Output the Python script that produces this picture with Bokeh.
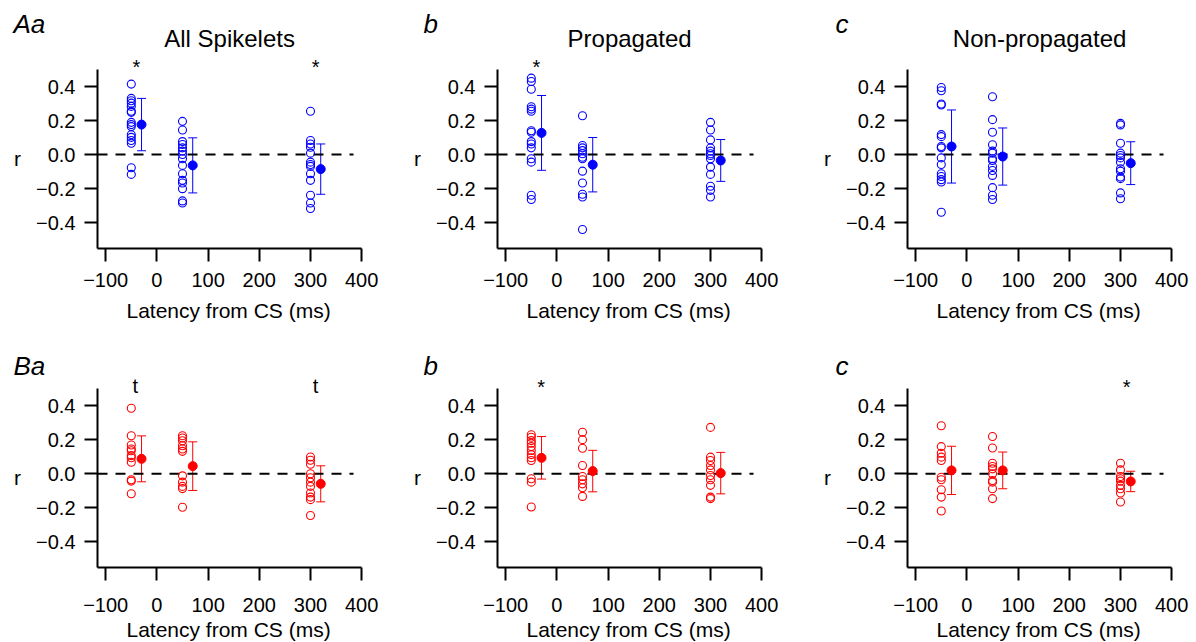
from bokeh.plotting import figure
from bokeh.layouts import column, row
from bokeh.models import ColumnDataSource, Whisker, TeeHead, FixedTicker, LinearAxis
from bokeh.embed import file_html
from bokeh.resources import INLINE
from bokeh.core.properties import value

# ---------------- data ----------------
x_groups = [-50, 50, 300]          # individual r values (open circles)
x_means = [-30, 70, 320]           # mean +/- SD (filled circles)
x_ticks = [-100, 0, 100, 200, 300, 400]
y_ticks = [-0.4, -0.2, 0.0, 0.2, 0.4]

# A: (blue)
aa_m50 = [0.414, 0.330, 0.316, 0.302, 0.283, 0.254, 0.248, 0.189, 0.176, 0.164, 0.117, 0.101, 0.082, 0.066, -0.078, -0.117]
aa_p50 = [0.195, 0.144, 0.076, 0.059, 0.039, 0.020, 0.000, -0.025, -0.064, -0.113, -0.152, -0.168, -0.201, -0.273, -0.285]
aa_p300 = [0.254, 0.082, 0.062, 0.043, 0.008, -0.045, -0.059, -0.070, -0.113, -0.152, -0.240, -0.285, -0.318]
aa_mean = [0.176, -0.064, -0.086]
aa_sd = [0.154, 0.162, 0.148]

ab_m50 = [0.449, 0.429, 0.384, 0.281, 0.267, 0.254, 0.140, 0.131, 0.076, 0.062, 0.039, -0.025, -0.045, -0.240, -0.265]
ab_p50 = [0.228, 0.053, 0.039, 0.023, 0.004, -0.016, -0.025, -0.098, -0.168, -0.234, -0.250, -0.441]
ab_p300 = [0.189, 0.144, 0.086, 0.039, 0.020, 0.004, -0.006, -0.025, -0.074, -0.117, -0.187, -0.211, -0.250]
ab_mean = [0.127, -0.060, -0.035]
ab_sd = [0.220, 0.160, 0.123]

ac_m50 = [0.394, 0.375, 0.297, 0.291, 0.117, 0.105, 0.047, 0.039, -0.020, -0.059, -0.113, -0.129, -0.148, -0.162, -0.340]
ac_p50 = [0.340, 0.205, 0.131, 0.057, 0.020, 0.008, -0.025, -0.035, -0.070, -0.094, -0.123, -0.195, -0.240, -0.265]
ac_p300 = [0.183, 0.174, 0.066, 0.008, -0.006, -0.020, -0.045, -0.084, -0.098, -0.133, -0.142, -0.226, -0.260]
ac_mean = [0.047, -0.012, -0.051]
ac_sd = [0.215, 0.168, 0.126]

# B: (red)
ba_m50 = [0.386, 0.224, 0.169, 0.146, 0.136, 0.107, 0.094, 0.068, -0.035, -0.043, -0.117]
ba_p50 = [0.224, 0.211, 0.194, 0.165, 0.146, 0.132, -0.012, -0.049, -0.074, -0.087, -0.197]
ba_p300 = [0.099, 0.080, 0.056, 0.000, -0.023, -0.049, -0.074, -0.113, -0.137, -0.152, -0.245]
ba_mean = [0.088, 0.045, -0.059]
ba_sd = [0.135, 0.143, 0.106]

bb_m50 = [0.230, 0.215, 0.195, 0.180, 0.160, 0.137, 0.113, 0.094, 0.078, -0.029, -0.049, -0.195]
bb_p50 = [0.244, 0.201, 0.150, 0.049, -0.016, -0.035, -0.059, -0.082, -0.133]
bb_p300 = [0.273, 0.098, 0.078, 0.049, 0.023, -0.010, -0.035, -0.068, -0.137, -0.146]
bb_mean = [0.094, 0.016, 0.004]
bb_sd = [0.125, 0.122, 0.122]

bc_m50 = [0.283, 0.160, 0.121, 0.098, 0.078, -0.020, -0.035, -0.094, -0.137, -0.219]
bc_p50 = [0.219, 0.152, 0.062, 0.043, 0.029, 0.000, -0.039, -0.049, -0.088, -0.146]
bc_p300 = [0.062, 0.023, -0.016, -0.029, -0.043, -0.068, -0.088, -0.113, -0.166]
bc_mean = [0.020, 0.020, -0.045]
bc_sd = [0.142, 0.108, 0.060]

# significance marks
aa_marks, aa_mark_x = ["*", "*"], [-40, 310]
ab_marks, ab_mark_x = ["*"], [-40]
ac_marks, ac_mark_x = [], []
ba_marks, ba_mark_x = ["t", "t"], [-42, 310]
bb_marks, bb_mark_x = ["*"], [-31]
bc_marks, bc_mark_x = ["*"], [312]

titles = ["All Spikelets", "Propagated", "Non-propagated"]
letters_a = ["Aa", "b", "c"]
letters_b = ["Ba", "b", "c"]
x_label = "Latency from CS (ms)"
y_label = "r"

# ---------------- layout / style ----------------
BLUE = "#0000ff"
RED = "#ff0000"
FONT = "Liberation Sans"
X_BOUNDS = (-116, 400)
Y_BOUNDS = (-0.55, 0.5)
PX_PER_MS = 0.512
PX_PER_R = 170.0
FIG_W = [408, 410, 378]
AXIS_PX = [97, 89, 89]          # y-axis position inside each figure
FIG_H = [326, 316]
ZERO_PX = [154, 147.3]          # r = 0 position inside each figure (from top)
ZERO_X = [-116, 384]
LETTER_DX = [-84, -74, -72]     # px from y axis
LETTER_Y = [0.765, 0.637]
MARK_Y = [[0.515, 0.515, 0.515], [0.515, 0.508, 0.508]]
TITLE_X, TITLE_Y = 142, 0.682
XLABEL_X, XLABEL_Y = 140, -0.918
YLABEL_DX, YLABEL_Y = -80, -0.024
XTICK_STANDOFF = [12, 18]


def style_axis(ax):
    ax.axis_line_width = 2
    ax.axis_line_color = "black"
    ax.major_tick_line_width = 2
    ax.major_tick_line_color = "black"
    ax.major_tick_out = 13
    ax.major_tick_in = 0
    ax.minor_tick_out = 0
    ax.minor_tick_in = 0
    ax.major_label_text_font = FONT
    ax.major_label_text_font_size = "20px"
    ax.major_label_text_color = "black"


def txt(p, xs, ys, texts, size, align="center", style="normal"):
    p.text(xs, ys, text=texts, text_align=align, text_baseline="middle",
           text_font=value(FONT), text_font_size=size, text_font_style=style,
           text_color="black")


def make_panel(r, c, groups, mean, sd, color, letter, title, marks, mark_x):
    x0 = X_BOUNDS[0] - AXIS_PX[c] / PX_PER_MS
    x1 = x0 + FIG_W[c] / PX_PER_MS
    y1 = ZERO_PX[r] / PX_PER_R
    y0 = -(FIG_H[r] - ZERO_PX[r]) / PX_PER_R
    p = figure(width=FIG_W[c], height=FIG_H[r], x_range=(x0, x1), y_range=(y0, y1),
               output_backend="svg", toolbar_location=None,
               x_axis_location=None, y_axis_location=None,
               min_border_left=0, min_border_right=0, min_border_top=0, min_border_bottom=0)
    p.grid.visible = False
    p.outline_line_color = None
    p.background_fill_color = "white"
    p.border_fill_color = "white"

    yaxis = LinearAxis(fixed_location=X_BOUNDS[0], bounds=Y_BOUNDS,
                       ticker=FixedTicker(ticks=y_ticks))
    style_axis(yaxis)
    yaxis.major_label_standoff = 9
    yaxis.major_label_overrides = {-0.4: "\u22120.4", -0.2: "\u22120.2", 0: "0.0",
                                   0.2: "0.2", 0.4: "0.4"}
    p.add_layout(yaxis, "left")

    xaxis = LinearAxis(fixed_location=Y_BOUNDS[0], bounds=X_BOUNDS,
                       ticker=FixedTicker(ticks=x_ticks))
    style_axis(xaxis)
    xaxis.major_label_standoff = XTICK_STANDOFF[r]
    xaxis.major_label_overrides = {-100: "\u2212100"}
    p.add_layout(xaxis, "below")

    # zero line
    p.line(ZERO_X, [0, 0], line_color="black", line_width=2, line_dash="10 8")

    # individual values
    for gx, vals in zip(x_groups, groups):
        p.scatter([gx] * len(vals), vals, size=8, marker="circle",
                  fill_color=None, line_color=color, line_width=1.1)

    # mean +/- sd
    upper = [m + s for m, s in zip(mean, sd)]
    lower = [m - s for m, s in zip(mean, sd)]
    src = ColumnDataSource(dict(base=x_means, upper=upper, lower=lower))
    w = Whisker(source=src, base="base", upper="upper", lower="lower",
                dimension="height", line_color=color, line_width=1,
                upper_head=TeeHead(size=9, line_color=color, line_width=1),
                lower_head=TeeHead(size=9, line_color=color, line_width=1))
    p.add_layout(w)
    p.scatter(x_means, mean, size=9, marker="circle", fill_color=color, line_color=color)

    # significance marks
    if marks:
        txt(p, mark_x, [MARK_Y[r][c]] * len(marks), marks, "20px")

    # texts
    if title:
        txt(p, [TITLE_X], [TITLE_Y], [title], "24px")
    txt(p, [X_BOUNDS[0] + LETTER_DX[c] / PX_PER_MS], [LETTER_Y[r]], [letter], "26px",
        align="left", style="italic")
    txt(p, [X_BOUNDS[0] + YLABEL_DX / PX_PER_MS], [YLABEL_Y], [y_label], "21px")
    txt(p, [XLABEL_X], [XLABEL_Y], [x_label], "21px")
    return p


top = [
    make_panel(0, 0, [aa_m50, aa_p50, aa_p300], aa_mean, aa_sd, BLUE, letters_a[0], titles[0], aa_marks, aa_mark_x),
    make_panel(0, 1, [ab_m50, ab_p50, ab_p300], ab_mean, ab_sd, BLUE, letters_a[1], titles[1], ab_marks, ab_mark_x),
    make_panel(0, 2, [ac_m50, ac_p50, ac_p300], ac_mean, ac_sd, BLUE, letters_a[2], titles[2], ac_marks, ac_mark_x),
]
bottom = [
    make_panel(1, 0, [ba_m50, ba_p50, ba_p300], ba_mean, ba_sd, RED, letters_b[0], None, ba_marks, ba_mark_x),
    make_panel(1, 1, [bb_m50, bb_p50, bb_p300], bb_mean, bb_sd, RED, letters_b[1], None, bb_marks, bb_mark_x),
    make_panel(1, 2, [bc_m50, bc_p50, bc_p300], bc_mean, bc_sd, RED, letters_b[2], None, bc_marks, bc_mark_x),
]

layout = column(row(*top), row(*bottom))
open("out.html", "w").write(file_html(layout, INLINE))
